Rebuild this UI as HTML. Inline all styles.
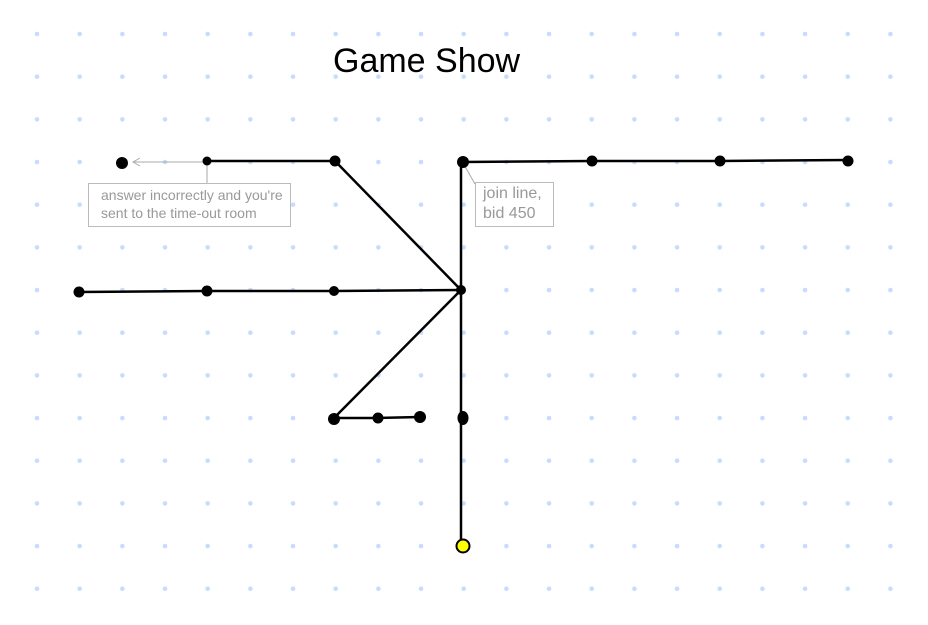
<!DOCTYPE html>
<html><head><style>body{margin:0;background:#fff}svg{display:block}</style></head><body>
<svg width="928" height="625" xmlns="http://www.w3.org/2000/svg" font-family="Liberation Sans, sans-serif">
<defs>
<pattern id="g" x="34" y="31" width="42.67" height="42.67" patternUnits="userSpaceOnUse">
<circle cx="3" cy="3" r="2.3" fill="#c6dcfb"/></pattern>
</defs>
<rect x="0" y="0" width="928" height="610" fill="url(#g)"/>
<text x="333" y="72" font-size="34" fill="#000">Game Show</text>
<g stroke="#000" stroke-width="2.5" fill="none" stroke-linecap="round">
<polyline points="207,161 335,161 461,290"/>
<polyline points="463,162 592,161 720,161 848,160"/>
<line x1="461" y1="162" x2="461" y2="546"/>
<polyline points="79,292 207,291 334,291 461,290"/>
<polyline points="461,290 334,418 378,418 420,417"/>
</g>
<g stroke="#aaa" stroke-width="1" fill="none">
<line x1="207" y1="162" x2="134" y2="162"/>
<polyline points="140,158 133,162 140,166"/>
<line x1="207" y1="162" x2="207" y2="183"/>
<line x1="463" y1="163" x2="475" y2="184"/>
<rect x="88.5" y="183.5" width="202" height="43" fill="#fff" stroke="#bbb"/>
<rect x="475.5" y="182.5" width="78" height="44" fill="#fff" stroke="#bbb"/>
</g>
<g font-size="14" fill="#999">
<text x="101" y="200">answer incorrectly and you're</text>
<text x="101" y="218">sent to the time-out room</text>
<text x="483" y="198" font-size="16">join line,</text>
<text x="483" y="218" font-size="16">bid 450</text>
</g>
<g fill="#000">
<circle cx="122" cy="163" r="6"/>
<circle cx="207" cy="161" r="4.5"/>
<circle cx="335" cy="161" r="5.5"/>
<circle cx="463" cy="162" r="6"/>
<circle cx="592" cy="161" r="5.5"/>
<circle cx="720" cy="161" r="5.5"/>
<circle cx="848" cy="161" r="5.5"/>
<circle cx="79" cy="292" r="5.5"/>
<circle cx="207" cy="291" r="5.5"/>
<circle cx="334" cy="291" r="5"/>
<circle cx="461" cy="290" r="5"/>
<circle cx="334" cy="419" r="6"/>
<circle cx="378" cy="418" r="5.5"/>
<circle cx="420" cy="417" r="6"/>
<ellipse cx="463" cy="418" rx="5.5" ry="7"/>
</g>
<circle cx="463" cy="546" r="6.5" fill="#ff0" stroke="#000" stroke-width="2"/>
</svg>
</body></html>
